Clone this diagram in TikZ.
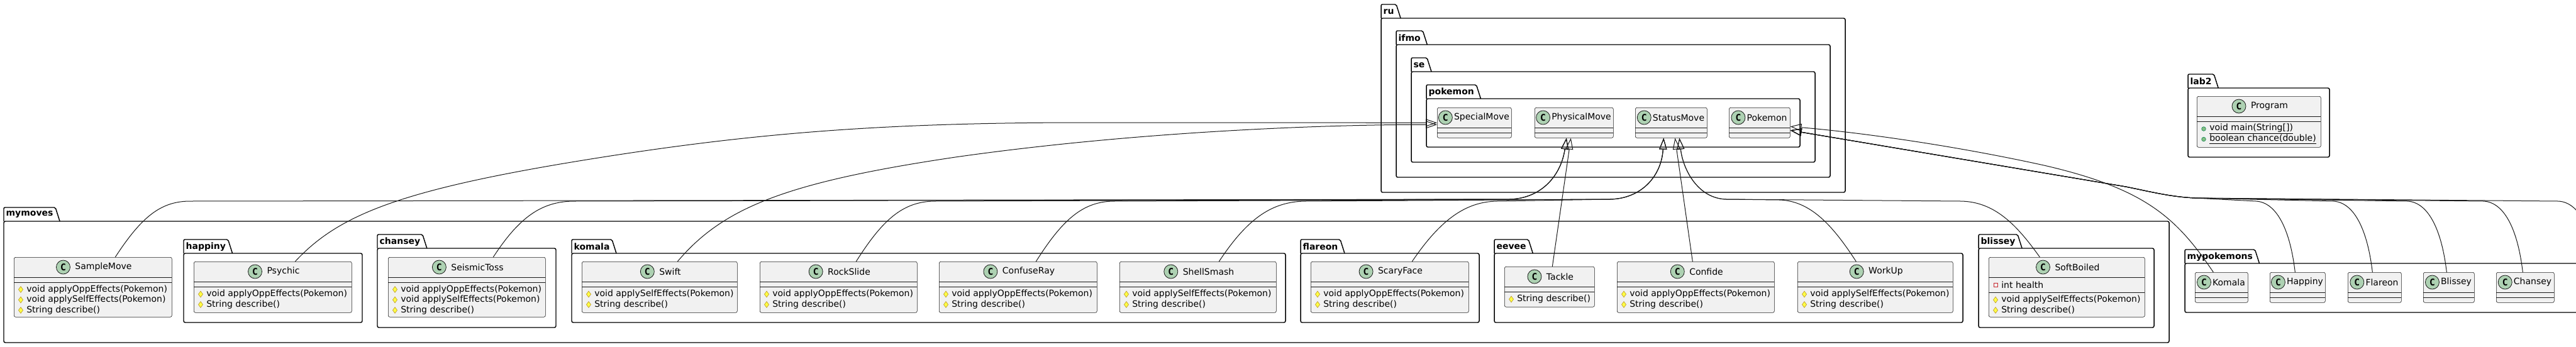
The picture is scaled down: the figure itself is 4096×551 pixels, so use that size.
\documentclass[tikz,border=0pt]{standalone}
\usepackage{fontspec}
\setmainfont{DejaVu Sans}
\setmonofont{DejaVu Sans Mono}
\usetikzlibrary{positioning,shapes.geometric,arrows.meta}

\definecolor{clsfill}{HTML}{F1F1F1}
\definecolor{clsdraw}{HTML}{181818}
\definecolor{badgefill}{HTML}{ADD1B2}
\definecolor{protfill}{HTML}{FFFF44}
\definecolor{protdraw}{HTML}{B38D22}
\definecolor{privdraw}{HTML}{C82930}
\definecolor{pubfill}{HTML}{84BE84}
\definecolor{pubdraw}{HTML}{038048}

\tikzstyle{clsbox}=[rectangle,draw=clsdraw,line width=0.45pt,fill=clsfill,rounded corners=1.9pt,inner sep=0pt]
\tikzstyle{clsline}=[draw=clsdraw,line width=0.45pt]
\tikzstyle{clsname}=[inner sep=0pt]
\tikzstyle{badge}=[circle,draw=clsdraw,line width=0.6pt,fill=badgefill,minimum size=16.5pt,inner sep=0pt,font=\fontsize{11}{12}\selectfont\ttfamily\bfseries]
\tikzstyle{member}=[anchor=west,inner sep=0pt]
\tikzstyle{prot}=[diamond,draw=protdraw,fill=protfill,line width=0.4pt,inner sep=0pt,minimum width=5.5pt,minimum height=7.5pt]
\tikzstyle{priv}=[rectangle,draw=privdraw,line width=0.6pt,inner sep=0pt,minimum size=4.5pt]
\tikzstyle{pub}=[circle,draw=pubdraw,fill=pubfill,line width=0.4pt,inner sep=0pt,minimum size=5pt]
\tikzstyle{pkglabel}=[anchor=north west,inner xsep=2.5pt,inner ysep=0pt,minimum height=16.5pt,font=\fontsize{10.5}{12}\selectfont\bfseries]
\tikzstyle{pkgline}=[draw=black,line width=1.1pt]
\tikzstyle{ext}=[draw=clsdraw,line width=0.75pt,-{Triangle[open,length=13.5pt,width=9pt]}]

\newcommand\Package[6]{
  \node[pkglabel] (#1) at (#2,#3) {#6};
  \draw[pkgline,rounded corners=1.5pt] (#2,#3+22) -- (#2,#3) -- (#1.north east) -- ([shift={(7,22)}]#1.north east);
  \draw[pkgline,rounded corners=1.9pt] (#2,#3+22) -- (#4,#3+22) -- (#4,#5) -- (#2,#5) -- cycle;
}
\newcommand\SmallClass[5]{
  \node[clsbox,anchor=north west,minimum width=#4*0.75pt,minimum height=48*0.75pt] (#1) at (#2,#3) {};
  \node[clsname] (#1-title) at (#2+#4/2+12,#3+16) {#5};
  \node[badge,left=1.5pt of #1-title] (#1-badge) {C};
  \draw[clsline] (#2,#3+32) -- (#2+#4,#3+32);
  \draw[clsline] (#2,#3+40) -- (#2+#4,#3+40);
}
\newcommand\BigClass[7]{
  \node[clsbox,anchor=north west,minimum width=#4*0.75pt,minimum height=#5*0.75pt] (#1) at (#2,#3) {};
  \node[clsname] (#1-title) at (#2+#4/2+17,#3+16) {#6};
  \node[badge,left=5.5pt of #1-title] (#1-badge) {C};
  \draw[clsline] (#2,#3+32) -- (#2+#4,#3+32);
  \draw[clsline] (#2,#7) -- (#2+#4,#7);
}
\newcommand\Member[5]{
  \node[#2] (#1-icon) at (#3+11,#4) {};
  \node[member] (#1) at (#3+20,#4) {#5};
}

\begin{document}
\begin{tikzpicture}[x=0.75pt,y=-0.75pt,font=\fontsize{10.5}{12}\selectfont]
  \useasboundingbox (0,0) rectangle (4096,551);
  \clip (0,0) rectangle (4096,551);

  \Package{pkg-ru}{2196}{7}{2934}{306}{ru}
  \Package{pkg-ifmo}{2220}{49}{2910}{282}{ifmo}
  \Package{pkg-se}{2244}{92}{2886}{258}{se}
  \Package{pkg-pokemon}{2268}{135}{2862}{234}{pokemon}
  \SmallClass{SpecialMove}{2285}{171}{118}{SpecialMove}
  \SmallClass{PhysicalMove}{2440}{171}{125}{PhysicalMove}
  \SmallClass{StatusMove}{2600}{171}{114}{StatusMove}
  \SmallClass{Pokemon}{2749}{171}{97}{Pokemon}

  \Package{pkg-lab2}{3479}{118}{3704}{250}{lab2}
  \BigClass{Program}{3493}{153}{197}{81}{Program}{193}
  \Member{Program-m1}{pub}{3493}{205}{\underline{void main(String[])}}
  \Member{Program-m2}{pub}{3493}{221.5}{\underline{boolean chance(double)}}

  \Package{pkg-mymoves}{6}{330}{3449}{545}{mymoves}
  \BigClass{SampleMove}{22}{409}{251}{95}{SampleMove}{449}
  \Member{SampleMove-m1}{prot}{22}{460.5}{void applyOppEffects(Pokemon)}
  \Member{SampleMove-m2}{prot}{22}{477}{void applySelfEffects(Pokemon)}
  \Member{SampleMove-m3}{prot}{22}{493.5}{String describe()}

  \Package{pkg-happiny}{292}{381}{576}{513}{happiny}
  \BigClass{Psychic}{308}{416}{251}{81}{Psychic}{456}
  \Member{Psychic-m1}{prot}{308}{468}{void applyOppEffects(Pokemon)}
  \Member{Psychic-m2}{prot}{308}{484.5}{String describe()}

  \Package{pkg-chansey}{600}{373}{884}{521}{chansey}
  \BigClass{SeismicToss}{617}{409}{250}{95}{SeismicToss}{449}
  \Member{SeismicToss-m1}{prot}{617}{460.5}{void applyOppEffects(Pokemon)}
  \Member{SeismicToss-m2}{prot}{617}{477}{void applySelfEffects(Pokemon)}
  \Member{SeismicToss-m3}{prot}{617}{493.5}{String describe()}

  \Package{pkg-komala}{909}{381}{2044}{513}{komala}
  \BigClass{Swift}{925}{416}{247}{81}{Swift}{456}
  \Member{Swift-m1}{prot}{925}{468}{void applySelfEffects(Pokemon)}
  \Member{Swift-m2}{prot}{925}{484.5}{String describe()}
  \BigClass{RockSlide}{1208}{416}{250}{81}{RockSlide}{456}
  \Member{RockSlide-m1}{prot}{1208}{468}{void applyOppEffects(Pokemon)}
  \Member{RockSlide-m2}{prot}{1208}{484.5}{String describe()}
  \BigClass{ConfuseRay}{1493}{416}{251}{81}{ConfuseRay}{456}
  \Member{ConfuseRay-m1}{prot}{1493}{468}{void applyOppEffects(Pokemon)}
  \Member{ConfuseRay-m2}{prot}{1493}{484.5}{String describe()}
  \BigClass{ShellSmash}{1780}{416}{249}{81}{ShellSmash}{456}
  \Member{ShellSmash-m1}{prot}{1780}{468}{void applySelfEffects(Pokemon)}
  \Member{ShellSmash-m2}{prot}{1780}{484.5}{String describe()}

  \Package{pkg-flareon}{2068}{381}{2352}{513}{flareon}
  \BigClass{ScaryFace}{2084}{416}{251}{81}{ScaryFace}{456}
  \Member{ScaryFace-m1}{prot}{2084}{468}{void applyOppEffects(Pokemon)}
  \Member{ScaryFace-m2}{prot}{2084}{484.5}{String describe()}

  \Package{pkg-eevee}{2376}{381}{3121}{513}{eevee}
  \BigClass{Tackle}{2392}{424}{143}{64}{Tackle}{464}
  \Member{Tackle-m1}{prot}{2392}{476}{String describe()}
  \BigClass{Confide}{2571}{416}{250}{81}{Confide}{456}
  \Member{Confide-m1}{prot}{2571}{468}{void applyOppEffects(Pokemon)}
  \Member{Confide-m2}{prot}{2571}{484.5}{String describe()}
  \BigClass{WorkUp}{2858}{416}{247}{81}{WorkUp}{456}
  \Member{WorkUp-m1}{prot}{2858}{468}{void applySelfEffects(Pokemon)}
  \Member{WorkUp-m2}{prot}{2858}{484.5}{String describe()}

  \Package{pkg-blissey}{3146}{373}{3425}{521}{blissey}
  \BigClass{SoftBoiled}{3162}{409}{248}{95}{SoftBoiled}{465}
  \Member{SoftBoiled-f1}{priv}{3162}{453}{int health}
  \Member{SoftBoiled-m1}{prot}{3162}{477}{void applySelfEffects(Pokemon)}
  \Member{SoftBoiled-m2}{prot}{3162}{493.5}{String describe()}

  \Package{pkg-mypokemons}{3474}{397}{4400}{497}{mypokemons}
  \SmallClass{Komala}{3490}{433}{84}{Komala}
  \SmallClass{Happiny}{3609}{433}{88}{Happiny}
  \SmallClass{Flareon}{3733}{433}{85}{Flareon}
  \SmallClass{Blissey}{3853}{433}{81}{Blissey}
  \SmallClass{Chansey}{3969}{433}{92}{Chansey}
  \coordinate (eeveeTop) at (4130,433);

  \draw[ext] ([shift={(35.5,0)}]Psychic.north) .. controls (540,340) and (640,300) .. (958,250) .. controls (1200,212) and (1400,196) .. (1700,195) -- (SpecialMove.west);
  \draw[ext] ([shift={(28.5,0)}]Swift.north) .. controls (1150,330) and (1250,290) .. (1519,250) .. controls (1800,210) and (2100,198) .. ([shift={(0,3)}]SpecialMove.west);

  \draw[ext] ([shift={(35.5,0)}]SampleMove.north) .. controls (225,345) and (255,321) .. (300,320) -- (2400,317) .. controls (2450,316) and (2482,280) .. ([shift={(-12,0)}]PhysicalMove.south);
  \draw[ext] ([shift={(42,0)}]SeismicToss.north) .. controls (826,345) and (861,321) .. (911,320) -- (2400,317) .. controls (2450,316) and (2482,280) .. ([shift={(-12,0)}]PhysicalMove.south);
  \draw[ext] ([shift={(28,0)}]RockSlide.north) .. controls (1403,350) and (1435,321) .. (1485,320) -- (2400,317) .. controls (2450,316) and (2482,280) .. ([shift={(-12,0)}]PhysicalMove.south);
  \draw[ext] ([shift={(4.5,0)}]Tackle.north) -- ([shift={(-5,0)}]PhysicalMove.south);

  \draw[ext] ([shift={(28.5,0)}]ConfuseRay.north) .. controls (1689,350) and (1721,321) .. (1770,320) -- (2560,317) .. controls (2610,316) and (2642,280) .. ([shift={(-12,0)}]StatusMove.south);
  \draw[ext] ([shift={(33.5,0)}]ShellSmash.north) .. controls (1982,350) and (2020,321) .. (2075,320) -- (2560,317) .. controls (2610,316) and (2642,280) .. ([shift={(-12,0)}]StatusMove.south);
  \draw[ext] ([shift={(35.5,0)}]ScaryFace.north) .. controls (2290,350) and (2330,321) .. (2380,320) -- (2560,317) .. controls (2610,316) and (2642,280) .. ([shift={(-12,0)}]StatusMove.south);
  \draw[ext] ([shift={(-5,0)}]Confide.north) -- ([shift={(6,0)}]StatusMove.south);
  \draw[ext] ([shift={(-30.5,0)}]WorkUp.north) .. controls (2915,360) and (2880,320) .. (2830,318) -- (2745,317) .. controls (2700,316) and (2676,270) .. ([shift={(13,0)}]StatusMove.south);
  \draw[ext] ([shift={(-43,0)}]SoftBoiled.north) .. controls (3205,355) and (3170,321) .. (3118,320) -- (2745,317) .. controls (2700,316) and (2676,270) .. ([shift={(13,0)}]StatusMove.south);

  \draw[ext] ([shift={(-13,0)}]Komala.north) .. controls (3460,345) and (3410,300) .. (3250,263) .. controls (3100,230) and (2950,210) .. ([shift={(0,6)}]Pokemon.east);
  \draw[ext] ([shift={(-4,0)}]Happiny.north) .. controls (3642,370) and (3622,322) .. (3587,320) -- (3490,315) .. controls (3450,313) and (3420,305) .. (3380,297) -- ([shift={(0,12)}]Pokemon.east);
  \draw[ext] ([shift={(-3.5,0)}]Flareon.north) .. controls (3765,370) and (3745,322) .. (3710,320) -- (3490,315) .. controls (3450,313) and (3420,305) .. (3380,297) -- ([shift={(0,12)}]Pokemon.east);
  \draw[ext] ([shift={(-3.5,0)}]Blissey.north) .. controls (3883,370) and (3863,322) .. (3828,320) -- (3490,315) .. controls (3450,313) and (3420,305) .. (3380,297) -- ([shift={(0,12)}]Pokemon.east);
  \draw[ext] ([shift={(-4,0)}]Chansey.north) .. controls (4004,370) and (3984,322) .. (3949,320) -- (3490,315) .. controls (3450,313) and (3420,305) .. (3380,297) -- ([shift={(0,12)}]Pokemon.east);
  \draw[ext] (eeveeTop) .. controls (4123,370) and (4103,322) .. (4068,320) -- (3490,315) .. controls (3450,313) and (3420,305) .. (3380,297) -- ([shift={(0,12)}]Pokemon.east);
\end{tikzpicture}
\end{document}
